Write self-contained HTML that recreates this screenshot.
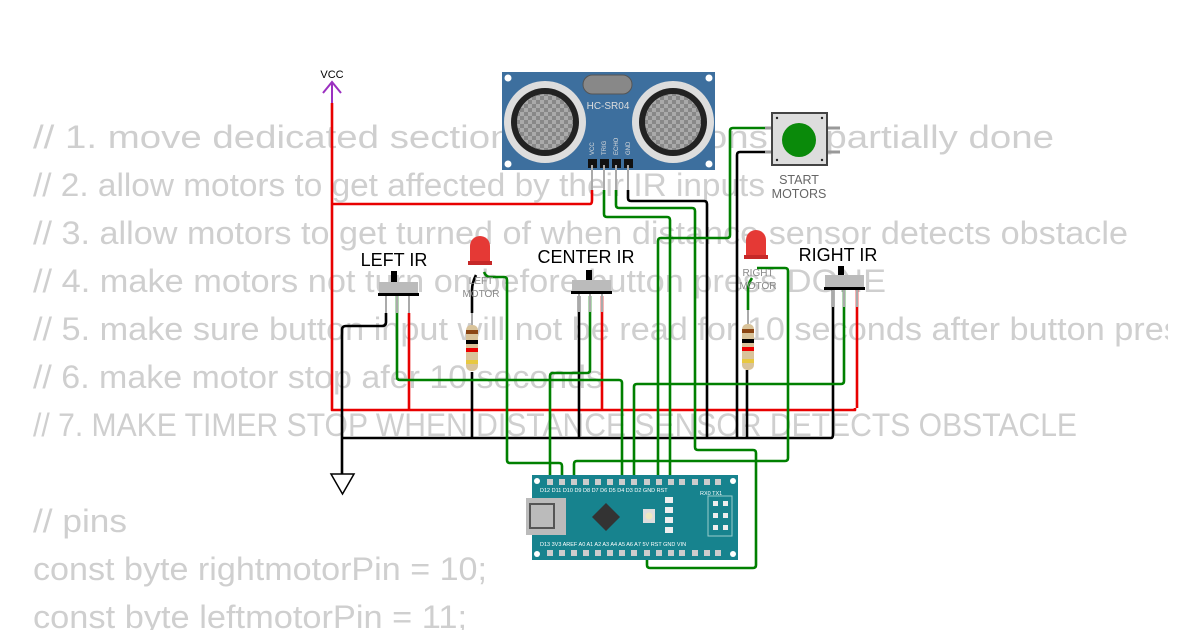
<!DOCTYPE html>
<html><head><meta charset="utf-8"><style>
html,body{margin:0;padding:0;background:#fff;width:1200px;height:630px;overflow:hidden}
svg{display:block}
.bg{font-family:"Liberation Sans",sans-serif;font-size:32px;fill:#cfcfcf}
.lbl{font-family:"Liberation Sans",sans-serif;fill:#000}
.w{fill:none;stroke-width:2.6;stroke-linejoin:round}
.r{stroke:#e80000}.g{stroke:#008000}.k{stroke:#000}
.pl{font-family:"Liberation Sans",sans-serif;font-size:5.5px;fill:#fff}
</style></head><body>
<svg width="1200" height="630" viewBox="0 0 1200 630" xmlns="http://www.w3.org/2000/svg">
<defs><clipPath id="c"><rect x="0" y="0" width="1168" height="630"/></clipPath>
<pattern id="chk" width="8" height="8" patternUnits="userSpaceOnUse"><rect width="8" height="8" fill="#888"/><rect width="4" height="4" fill="#aaa"/><rect x="4" y="4" width="4" height="4" fill="#aaa"/></pattern></defs>
<g class="bg" clip-path="url(#c)">
<text x="33" y="148" textLength="1021" lengthAdjust="spacingAndGlyphs">// 1. move dedicated sections into functions IS partially done</text>
<text x="33" y="196" textLength="732" lengthAdjust="spacingAndGlyphs">// 2. allow motors to get affected by their IR inputs</text>
<text x="33" y="244" textLength="1095" lengthAdjust="spacingAndGlyphs">// 3. allow motors to get turned of when distance sensor detects obstacle</text>
<text x="33" y="292" textLength="853" lengthAdjust="spacingAndGlyphs">// 4. make motors not turn on before button press DONE</text>
<text x="33" y="340" textLength="1165" lengthAdjust="spacingAndGlyphs">// 5. make sure button input will not be read for 10 seconds after button press</text>
<text x="33" y="388" textLength="570" lengthAdjust="spacingAndGlyphs">// 6. make motor stop afer 10 seconds</text>
<text x="33" y="436" textLength="1044" lengthAdjust="spacingAndGlyphs">// 7. MAKE TIMER STOP WHEN DISTANCE SENSOR DETECTS OBSTACLE</text>
<text x="33" y="532" textLength="94" lengthAdjust="spacingAndGlyphs">// pins</text>
<text x="33" y="580" textLength="454" lengthAdjust="spacingAndGlyphs">const byte rightmotorPin = 10;</text>
<text x="33" y="628" textLength="434" lengthAdjust="spacingAndGlyphs">const byte leftmotorPin = 11;</text>
</g>

<!-- HC-SR04 -->
<rect x="502" y="72" width="213" height="98" fill="#3d6f9e"/>
<circle cx="508" cy="78" r="3.5" fill="#fff"/><circle cx="709" cy="78" r="3.5" fill="#fff"/>
<circle cx="508" cy="164" r="3.5" fill="#fff"/><circle cx="709" cy="164" r="3.5" fill="#fff"/>
<rect x="583" y="75" width="49" height="19" rx="9.5" fill="#888" stroke="#555"/>
<g><circle cx="545" cy="122" r="41" fill="#ddd"/><circle cx="545" cy="122" r="34" fill="#222"/><circle cx="545" cy="122" r="28" fill="url(#chk)"/></g>
<g><circle cx="673" cy="122" r="41" fill="#ddd"/><circle cx="673" cy="122" r="34" fill="#222"/><circle cx="673" cy="122" r="28" fill="url(#chk)"/></g>
<text x="608" y="109" font-family="Liberation Sans,sans-serif" font-size="10" fill="#ddd" text-anchor="middle">HC-SR04</text>
<g font-family="Liberation Sans,sans-serif" font-size="6" fill="#ddd">
<text transform="translate(594,155) rotate(-90)">VCC</text><text transform="translate(606,155) rotate(-90)">TRIG</text>
<text transform="translate(618,155) rotate(-90)">ECHO</text><text transform="translate(630,155) rotate(-90)">GND</text></g>
<g fill="#111"><rect x="588" y="159" width="9" height="9"/><rect x="600" y="159" width="9" height="9"/><rect x="612" y="159" width="9" height="9"/><rect x="624" y="159" width="9" height="9"/></g>
<g stroke="#aaa" stroke-width="2"><line x1="592" y1="165" x2="592" y2="190"/><line x1="604" y1="165" x2="604" y2="190"/><line x1="616" y1="165" x2="616" y2="190"/><line x1="628" y1="165" x2="628" y2="190"/></g>

<!-- VCC & GND symbols -->
<text x="332" y="78" font-family="Liberation Sans,sans-serif" font-size="11" text-anchor="middle">VCC</text>
<path d="M323,93 L332,82 L341,93 M332,82 L332,103" fill="none" stroke="#9b30c0" stroke-width="2"/>
<path d="M331,474 L354,474 L342.5,494 Z" fill="#fff" stroke="#000" stroke-width="1.5"/>

<!-- wires -->
<path class="w r" d="M332,103 V410 H855 V408"/>
<path class="w r" d="M332,204 H590 Q592,204 592,200 V190"/>
<path class="w r" d="M409,313 V410"/>
<path class="w r" d="M602,296 V410"/>
<path class="w r" d="M857,290 V408"/>
<path class="w k" d="M386,313 V322 Q386,326 382,326 H346 Q342,326 342,330 V474"/>
<path class="w k" d="M342,438 H831 Q833,438 833,434 V290"/>
<path class="w k" d="M472,372 V438"/><path class="w k" d="M579,296 V438"/><path class="w k" d="M747,370 V438"/>
<path class="w k" d="M628,190 V198 Q628,201 631,201 H704 Q707,201 707,204 V438"/>
<path class="w k" d="M772,152 H740 Q737,152 737,155 V438"/>
<path class="w g" d="M397,296 V377 Q397,380 400,380 H619 Q622,380 622,383 V480"/>
<path class="w g" d="M844,290 V381 Q844,384 841,384 H637 Q634,384 634,387 V480"/>
<path class="w g" d="M590,296 V370 Q590,373 587,373 H553 Q550,373 550,376 V480"/>
<path class="w g" d="M484,272 Q486,277 490,277 H504 Q507,277 507,280 V460 Q507,463 510,463 H559 Q562,463 562,466 V480"/>
<path class="w g" d="M757,268 H785 Q788,268 788,271 V458 Q788,461 785,461 H577 Q574,461 574,464 V480"/>
<path class="w g" d="M604,190 V214 Q604,217 607,217 H667 Q670,217 670,220 V480"/>
<path class="w g" d="M616,190 V205 Q616,208 619,208 H692 Q695,208 695,211 V447 Q695,450 698,450 H753 Q756,450 756,453 V565 Q756,568 753,568 H650 Q647,568 647,565 V553"/>
<path class="w g" d="M772,128 H733 Q730,128 730,131 V235 Q730,238 727,238 H661 Q658,238 658,241 V480"/>
<path class="w g" d="M748,310 V290 Q748,284 752,278"/>
<path class="w k" d="M472,313 V290 Q472,283 476,275" stroke="#777" stroke-width="1.5"/>

<!-- Left LED -->
<g><path d="M470,262 V246 A10,10 0 0 1 490,246 V262 Z" fill="#e53935"/><rect x="468" y="261" width="24" height="4" fill="#c62828"/></g>
<text x="481" y="284" font-family="Liberation Sans,sans-serif" font-size="10" fill="#888" text-anchor="middle">LEFT</text>
<text x="481" y="297" font-family="Liberation Sans,sans-serif" font-size="10" fill="#888" text-anchor="middle">MOTOR</text>
<!-- Right LED -->
<g><path d="M746,256 V240 A10,10 0 0 1 766,240 V256 Z" fill="#e53935"/><rect x="744" y="255" width="24" height="4" fill="#c62828"/></g>
<text x="758" y="276" font-family="Liberation Sans,sans-serif" font-size="10" fill="#888" text-anchor="middle">RIGHT</text>
<text x="758" y="289" font-family="Liberation Sans,sans-serif" font-size="10" fill="#888" text-anchor="middle">MOTOR</text>

<!-- resistors -->
<g><line x1="472" y1="313" x2="472" y2="325" stroke="#aaa" stroke-width="2"/><rect x="466" y="325" width="12" height="46" rx="5" fill="#d9c39a"/>
<rect x="466" y="330" width="12" height="4" fill="#8b4513"/><rect x="466" y="340" width="12" height="4" fill="#000"/><rect x="466" y="348" width="12" height="4" fill="#e00"/><rect x="466" y="360" width="12" height="4" fill="#e8c840"/></g>
<g><line x1="748" y1="310" x2="748" y2="324" stroke="#aaa" stroke-width="2"/><rect x="742" y="324" width="12" height="46" rx="5" fill="#d9c39a"/>
<rect x="742" y="329" width="12" height="4" fill="#8b4513"/><rect x="742" y="339" width="12" height="4" fill="#000"/><rect x="742" y="347" width="12" height="4" fill="#e00"/><rect x="742" y="359" width="12" height="4" fill="#e8c840"/></g>

<!-- switches -->
<g class="lbl" font-size="18" text-anchor="middle"><text x="394" y="266">LEFT IR</text><text x="586" y="263">CENTER IR</text><text x="838" y="261">RIGHT IR</text></g>
<g><rect x="391" y="271" width="6" height="11" fill="#000"/><rect x="379" y="282" width="39" height="12" fill="#bbb"/><rect x="378" y="293" width="41" height="3" fill="#000"/>
<g stroke="#aaa" stroke-width="2"><line x1="386" y1="296" x2="386" y2="313"/><line x1="397" y1="296" x2="397" y2="313"/><line x1="409" y1="296" x2="409" y2="313"/></g></g>
<g><rect x="586" y="270" width="6" height="11" fill="#000"/><rect x="572" y="280" width="39" height="12" fill="#bbb"/><rect x="571" y="291" width="41" height="3" fill="#000"/>
<g stroke="#aaa" stroke-width="2"><line x1="579" y1="294" x2="579" y2="312"/><line x1="590" y1="294" x2="590" y2="312"/><line x1="602" y1="294" x2="602" y2="312"/></g></g>
<g><rect x="838" y="266" width="6" height="11" fill="#000"/><rect x="825" y="275" width="39" height="12" fill="#bbb"/><rect x="824" y="287" width="41" height="3" fill="#000"/>
<g stroke="#aaa" stroke-width="2"><line x1="833" y1="290" x2="833" y2="307"/><line x1="844" y1="290" x2="844" y2="307"/><line x1="857" y1="290" x2="857" y2="307"/></g></g>

<!-- button -->
<g stroke="#999" stroke-width="3"><line x1="765" y1="128" x2="775" y2="128"/><line x1="765" y1="152" x2="775" y2="152"/><line x1="825" y1="128" x2="840" y2="128"/><line x1="825" y1="152" x2="840" y2="152"/></g>
<rect x="772" y="113" width="55" height="52" fill="#ddd" stroke="#444" stroke-width="2"/>
<circle cx="799" cy="140" r="17" fill="#0a8a0a"/>
<g fill="#222"><circle cx="777" cy="118" r="1.2"/><circle cx="822" cy="118" r="1.2"/><circle cx="777" cy="160" r="1.2"/><circle cx="822" cy="160" r="1.2"/></g>
<text x="799" y="184" font-family="Liberation Sans,sans-serif" font-size="12.5" fill="#666" text-anchor="middle">START</text>
<text x="799" y="198" font-family="Liberation Sans,sans-serif" font-size="12.5" fill="#666" text-anchor="middle">MOTORS</text>

<!-- Nano -->
<rect x="532" y="475" width="206" height="85" fill="#17838e"/>
<g fill="#fff"><circle cx="537" cy="481" r="3"/><circle cx="733" cy="481" r="3"/><circle cx="537" cy="554" r="3"/><circle cx="733" cy="554" r="3"/></g>
<g fill="#ccc">
<rect x="547" y="479" width="6" height="6"/><rect x="559" y="479" width="6" height="6"/><rect x="571" y="479" width="6" height="6"/><rect x="583" y="479" width="6" height="6"/><rect x="595" y="479" width="6" height="6"/><rect x="607" y="479" width="6" height="6"/><rect x="619" y="479" width="6" height="6"/><rect x="631" y="479" width="6" height="6"/><rect x="644" y="479" width="6" height="6"/><rect x="656" y="479" width="6" height="6"/><rect x="668" y="479" width="6" height="6"/><rect x="679" y="479" width="6" height="6"/><rect x="692" y="479" width="6" height="6"/><rect x="704" y="479" width="6" height="6"/><rect x="715" y="479" width="6" height="6"/>
<rect x="547" y="550" width="6" height="6"/><rect x="559" y="550" width="6" height="6"/><rect x="571" y="550" width="6" height="6"/><rect x="583" y="550" width="6" height="6"/><rect x="595" y="550" width="6" height="6"/><rect x="607" y="550" width="6" height="6"/><rect x="619" y="550" width="6" height="6"/><rect x="631" y="550" width="6" height="6"/><rect x="644" y="550" width="6" height="6"/><rect x="656" y="550" width="6" height="6"/><rect x="668" y="550" width="6" height="6"/><rect x="679" y="550" width="6" height="6"/><rect x="692" y="550" width="6" height="6"/><rect x="704" y="550" width="6" height="6"/><rect x="715" y="550" width="6" height="6"/></g>
<g class="pl"><text x="540" y="492">D12 D11 D10  D9   D8   D7   D6   D5   D4   D3   D2  GND RST</text><text x="700" y="495">RX0 TX1</text>
<text x="540" y="546">D13 3V3 AREF A0  A1   A2   A3   A4   A5   A6   A7   5V  RST GND VIN</text></g>
<rect x="526" y="498" width="40" height="37" fill="#bbb"/><rect x="530" y="504" width="24" height="24" fill="none" stroke="#555" stroke-width="2"/>
<path d="M606,503 L620,517 L606,531 L592,517 Z" fill="#333"/>
<rect x="643" y="509" width="12" height="14" fill="#ddd"/><circle cx="649" cy="516" r="3.5" fill="#eee8c0"/>
<g fill="#eee"><rect x="665" y="497" width="8" height="6"/><rect x="665" y="507" width="8" height="6"/><rect x="665" y="517" width="8" height="6"/><rect x="665" y="527" width="8" height="6"/></g>
<rect x="708" y="496" width="24" height="40" fill="none" stroke="#9cc" stroke-width="1"/>
<g fill="#eee"><rect x="713" y="501" width="5" height="5"/><rect x="723" y="501" width="5" height="5"/><rect x="713" y="513" width="5" height="5"/><rect x="723" y="513" width="5" height="5"/><rect x="713" y="525" width="5" height="5"/><rect x="723" y="525" width="5" height="5"/></g>
</svg>
</body></html>
